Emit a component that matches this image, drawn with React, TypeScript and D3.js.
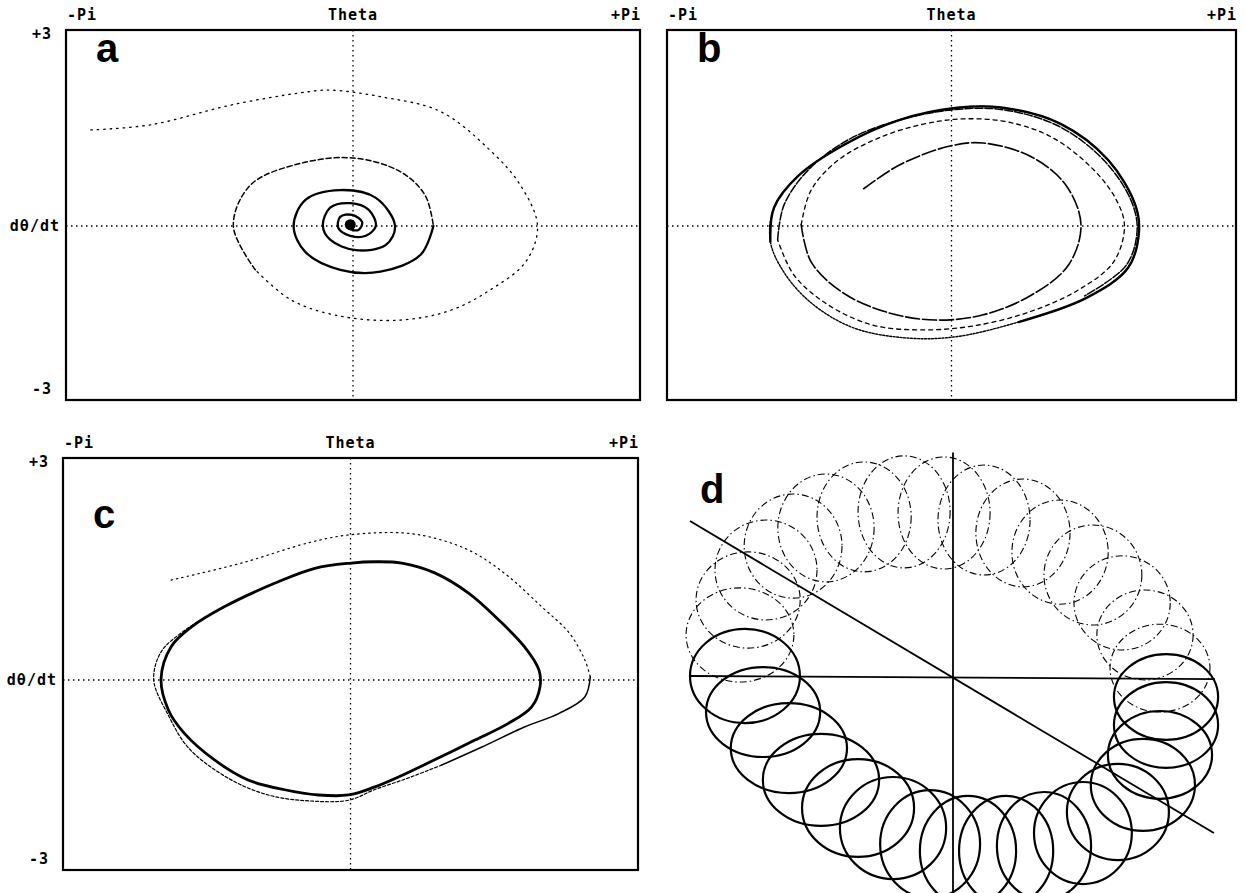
import React from "react";
import * as d3 from "d3";

type P = [number, number];
type Loop = [number, number, number, number]; // cx, cy, rx, ry (panel d units)

// ---- axis texts ----
const thetaTicks = ["-Pi", "Theta", "+Pi"];
const rateTicks = ["+3", "dθ/dt", "-3"];
const panelNames = ["a", "b", "c", "d"];

// ---- panel a : damped spiral (theta [rad], dtheta/dt) ----
const aOuter: P[] = [
  [-2.87, 1.47], [-2.21, 1.55], [-1.34, 1.85], [-0.57, 2.04], [-0.25, 2.08], [0.3, 1.98],
  [0.96, 1.75], [1.5, 1.16], [1.83, 0.63], [2.02, 0], [1.89, -0.55], [1.5, -0.98],
  [1.07, -1.29], [0.52, -1.44], [-0.14, -1.38], [-0.68, -1.13], [-1.07, -0.67],
];
const aMid: P[] = [
  [-1.07, -0.67], [-1.31, 0], [-1.12, 0.63], [-0.57, 0.96], [0.01, 1.04], [0.52, 0.83],
  [0.79, 0.47], [0.88, 0],
];
const aInner: P[] = [
  [0.88, 0], [0.74, -0.44], [0.3, -0.7], [-0.14, -0.67], [-0.52, -0.4], [-0.65, 0],
  [-0.52, 0.4], [-0.14, 0.55], [0.25, 0.43], [0.46, 0], [0.36, -0.29], [0.03, -0.37],
  [-0.25, -0.21], [-0.33, 0], [-0.25, 0.28], [-0.03, 0.35], [0.17, 0.25], [0.25, 0],
  [0.14, -0.15], [-0.03, -0.15], [-0.16, -0.03], [-0.14, 0.14], [-0.01, 0.17],
  [0.1, 0.06], [0.06, -0.06], [-0.05, -0.03], [-0.03, 0.06],
];
const aFixedPoint: P = [-0.03, 0.02];

// ---- panel b : trajectory growing onto a limit cycle ----
const bLoop0: P[] = [
  [-0.97, 0.57], [-0.58, 0.93], [-0.03, 1.22], [0.35, 1.27], [0.88, 1.06], [1.26, 0.63],
  [1.43, 0.02], [1.29, -0.6], [0.88, -1.06], [0.35, -1.36], [-0.18, -1.44], [-0.69, -1.33],
  [-1.19, -1.03], [-1.55, -0.55], [-1.66, 0.02],
];
const bLoop1: P[] = [
  [-1.66, 0.02], [-1.55, 0.55], [-1.25, 1.01], [-0.8, 1.35], [-0.31, 1.56], [0.13, 1.64],
  [0.63, 1.59], [1.12, 1.35], [1.57, 0.86], [1.82, 0.4], [1.91, 0], [1.79, -0.55],
  [1.4, -0.98], [0.85, -1.32], [0.24, -1.53], [-0.31, -1.59], [-0.86, -1.52],
  [-1.36, -1.21], [-1.74, -0.75], [-1.92, -0.21],
];
const bLoop2: P[] = [
  [-1.92, -0.21], [-1.85, 0.32], [-1.58, 0.86], [-1.14, 1.32], [-0.58, 1.62], [0.02, 1.78],
  [0.57, 1.78], [1.18, 1.53], [1.68, 1.01], [1.98, 0.4], [2.05, -0.06], [1.93, -0.6],
  [1.47, -1.07],
];
const bLimit: P[] = [
  [-2.0, -0.24], [-1.96, 0.28], [-1.69, 0.77], [-1.19, 1.24], [-0.58, 1.62], [0.06, 1.81],
  [0.57, 1.81], [1.21, 1.56], [1.73, 1.01], [2.03, 0.32], [2.07, -0.09], [1.95, -0.64],
  [1.49, -1.1], [0.74, -1.47], [0.02, -1.7], [-0.53, -1.71], [-1.08, -1.56], [-1.52, -1.21],
  [-1.83, -0.75],
];

// ---- panel c : transient onto a limit cycle ----
const cTransTop: P[] = [
  [-1.96, 1.53], [-1.19, 1.79], [-0.46, 2.1], [-0.02, 2.22], [0.59, 2.25], [1.0, 2.14],
  [1.36, 1.94], [1.73, 1.58], [2.09, 1.12], [2.39, 0.72], [2.56, 0.31], [2.62, 0.05],
];
const cTransRight: P[] = [
  [2.62, 0.05], [2.56, -0.26], [2.28, -0.51], [1.9, -0.72], [1.43, -1.03], [1.0, -1.3],
];
const cTransBottom: P[] = [
  [1.0, -1.3], [0.63, -1.5], [0.26, -1.68], [-0.02, -1.84], [-0.46, -1.85], [-0.9, -1.76],
  [-1.34, -1.5], [-1.77, -1.04], [-1.99, -0.54], [-2.15, 0], [-2.07, 0.43], [-1.85, 0.72],
  [-1.58, 0.96], [-1.25, 1.22],
];
const cLimit: P[] = [
  [-2.07, 0.02], [-1.96, 0.51], [-1.74, 0.81], [-1.38, 1.12], [-0.83, 1.48], [-0.39, 1.71],
  [0.01, 1.79], [0.26, 1.81], [0.56, 1.79], [0.92, 1.64], [1.29, 1.33], [1.62, 0.92],
  [1.9, 0.51], [2.06, 0.15], [2.07, -0.11], [1.98, -0.41], [1.73, -0.66], [1.36, -0.92],
  [0.92, -1.22], [0.53, -1.48], [0.26, -1.64], [-0.02, -1.76], [-0.35, -1.76],
  [-0.72, -1.68], [-1.12, -1.53], [-1.49, -1.22], [-1.82, -0.81], [-1.99, -0.46],
];

// ---- panel d : loops of the torus trajectory (front = bold, back = dashed) ----
const dFrontLoops: Loop[] = [
  [-79.1, 0, 20.9, 17.9], [-72.2, -13.7, 21.7, 17.1], [-62.4, -27.4, 22.1, 17.1],
  [-50.2, -39.5, 22.1, 17.5], [-36.1, -50.2, 21.3, 18.6], [-22.8, -57.8, 20.2, 19.4],
  [-8.7, -63.9, 19.0, 20.5], [5.7, -66.5, 18.3, 20.9], [20.2, -66.5, 17.9, 20.9],
  [34.6, -64.6, 17.9, 20.5], [49.4, -59.7, 18.6, 19.4], [62.7, -51.7, 19.4, 18.3],
  [72.2, -41.4, 19.8, 17.5], [78.7, -30.0, 19.8, 16.7], [81.0, -18.6, 19.8, 16.3],
  [81.0, -8.0, 19.8, 16.3],
];
const dBackLoops: Loop[] = [
  [78.7, 3.0, 19.0, 16.7], [73.0, 15.6, 18.3, 17.1], [64.3, 27.8, 18.3, 17.9],
  [53.2, 38.4, 18.6, 19.0], [40.7, 47.1, 18.3, 19.8], [26.6, 54.4, 17.9, 20.5],
  [11.8, 59.3, 17.5, 20.9], [-3.4, 62.0, 17.5, 21.3], [-18.6, 62.4, 17.5, 21.3],
  [-33.8, 60.5, 17.9, 20.9], [-48.3, 56.3, 18.3, 20.5], [-60.8, 49.4, 18.6, 19.8],
  [-71.1, 40.3, 19.4, 19.0], [-77.9, 28.9, 19.8, 18.3], [-81.0, 15.6, 20.5, 17.9],
];
const dAxes: [P, P][] = [
  [[0, 85], [0, -83]],
  [[-100, 0], [99.6, -1.2]],
  [[-100, 58.9], [99.2, -59.7]],
];

const FONT = "'DejaVu Sans Mono', monospace";
const LABEL_FONT = "'Liberation Sans', Arial, sans-serif";
const UNIT_PX = 65.33; // pixels per unit of dθ/dt

type Box = { x0: number; x1: number; y0: number; y1: number; zero: number };
type CurveSpec = { pts: P[]; closed?: boolean; width: number; dash?: string };

function PhasePanel({ box, name, nameY, yLabels, curves, extra }: {
  box: Box; name: string; nameY: number; yLabels: boolean; curves: CurveSpec[];
  extra?: (x: any, y: any) => React.ReactNode;
}) {
  const x = d3.scaleLinear().domain([-Math.PI, Math.PI]).range([box.x0, box.x1]);
  const y = d3.scaleLinear().domain([-3, 3]).range([box.zero + 3 * UNIT_PX, box.zero - 3 * UNIT_PX]);
  const open = d3.line<P>().x((d) => x(d[0])).y((d) => y(d[1])).curve(d3.curveCatmullRom.alpha(0.5));
  const closed = d3.line<P>().x((d) => x(d[0])).y((d) => y(d[1])).curve(d3.curveCatmullRomClosed.alpha(0.5));
  const tickY = box.y0 - 10;
  const tf = { fontFamily: FONT, fontWeight: "bold" as const, fontSize: 15, letterSpacing: 1 };
  return (
    <g>
      <text {...tf} x={box.x0 + 1} y={tickY} textAnchor="start">{thetaTicks[0]}</text>
      <text {...tf} x={x(0)} y={tickY} textAnchor="middle">{thetaTicks[1]}</text>
      <text {...tf} x={box.x1 + 1} y={tickY} textAnchor="end">{thetaTicks[2]}</text>
      {yLabels && (
        <g>
          <text {...tf} x={box.x0 - 14} y={box.y0 + 9} textAnchor="end">{rateTicks[0]}</text>
          <text {...tf} x={box.x0 - 6} y={y(0) + 5} textAnchor="end">{rateTicks[1]}</text>
          <text {...tf} x={box.x0 - 14} y={box.y1 - 6} textAnchor="end">{rateTicks[2]}</text>
        </g>
      )}
      <line x1={x(0)} x2={x(0)} y1={box.y0} y2={box.y1} stroke="#000" strokeWidth={1.3} strokeDasharray="1.5,3.5" />
      <line x1={box.x0} x2={box.x1} y1={y(0)} y2={y(0)} stroke="#000" strokeWidth={1.3} strokeDasharray="1.5,3.5" />
      {curves.map((c, i) => (
        <path key={i} d={(c.closed ? closed : open)(c.pts) || ""} fill="none" stroke="#000"
          strokeWidth={c.width} strokeDasharray={c.dash} strokeLinecap="round" strokeLinejoin="round" />
      ))}
      {extra && extra(x, y)}
      <rect x={box.x0} y={box.y0} width={box.x1 - box.x0} height={box.y1 - box.y0} fill="none" stroke="#000" strokeWidth={2.2} />
      <text x={box.x0 + 30} y={nameY} fontFamily={LABEL_FONT} fontWeight="bold" fontSize={40}>{name}</text>
    </g>
  );
}

function TorusPanel() {
  const x = d3.scaleLinear().domain([-100, 100]).range([690, 1216]);
  const y = d3.scaleLinear().domain([-100, 100]).range([939, 413]);
  const k = x(1) - x(0);
  const line = d3.line<P>().x((d) => x(d[0])).y((d) => y(d[1]));
  return (
    <g>
      {dBackLoops.map((l, i) => (
        <ellipse key={"b" + i} cx={x(l[0])} cy={y(l[1])} rx={l[2] * k} ry={l[3] * k}
          fill="none" stroke="#000" strokeWidth={1.1} strokeDasharray="7,3,1.5,3" />
      ))}
      {dAxes.map((a, i) => (
        <path key={"a" + i} d={line(a) || ""} stroke="#000" strokeWidth={1.8} fill="none" />
      ))}
      {dFrontLoops.map((l, i) => (
        <ellipse key={"f" + i} cx={x(l[0])} cy={y(l[1])} rx={l[2] * k} ry={l[3] * k}
          fill="none" stroke="#000" strokeWidth={2.2} />
      ))}
      <text x={700} y={503} fontFamily={LABEL_FONT} fontWeight="bold" fontSize={40}>{panelNames[3]}</text>
    </g>
  );
}

export default function App() {
  const boxA: Box = { x0: 66, x1: 640, y0: 30, y1: 400, zero: 226 };
  const boxB: Box = { x0: 667, x1: 1236, y0: 30, y1: 400, zero: 226 };
  const boxC: Box = { x0: 63, x1: 638, y0: 458, y1: 870, zero: 680 };
  return (
    <svg width={1245} height={893} style={{ position: "absolute", left: 0, top: 0, background: "#fff" }}>
      <rect x={0} y={0} width={1245} height={893} fill="#fff" />
      <PhasePanel box={boxA} name={panelNames[0]} nameY={62} yLabels={true}
        curves={[
          { pts: aOuter, width: 1.3, dash: "1.5,5" },
          { pts: aMid, width: 1.5, dash: "5,3" },
          { pts: aInner, width: 2.3 },
        ]}
        extra={(x, y) => <circle cx={x(aFixedPoint[0])} cy={y(aFixedPoint[1])} r={5.5} fill="#000" />}
      />
      <PhasePanel box={boxB} name={panelNames[1]} nameY={62} yLabels={false}
        curves={[
          { pts: bLoop0, width: 1.6, dash: "14,3" },
          { pts: bLoop1, width: 1.3, dash: "4,4" },
          { pts: bLoop2, width: 1.5, dash: "8,2" },
          { pts: bLimit, closed: true, width: 1.4, dash: "2,1.5" },
          { pts: bLimit.slice(0, 14), width: 2.4 },
        ]}
      />
      <PhasePanel box={boxC} name={panelNames[2]} nameY={528} yLabels={true}
        curves={[
          { pts: cTransTop, width: 1.2, dash: "1.5,4" },
          { pts: cTransRight, width: 1.5 },
          { pts: cTransBottom, width: 1.2, dash: "3,2" },
          { pts: cLimit, closed: true, width: 2.8 },
        ]}
      />
      <TorusPanel />
    </svg>
  );
}
